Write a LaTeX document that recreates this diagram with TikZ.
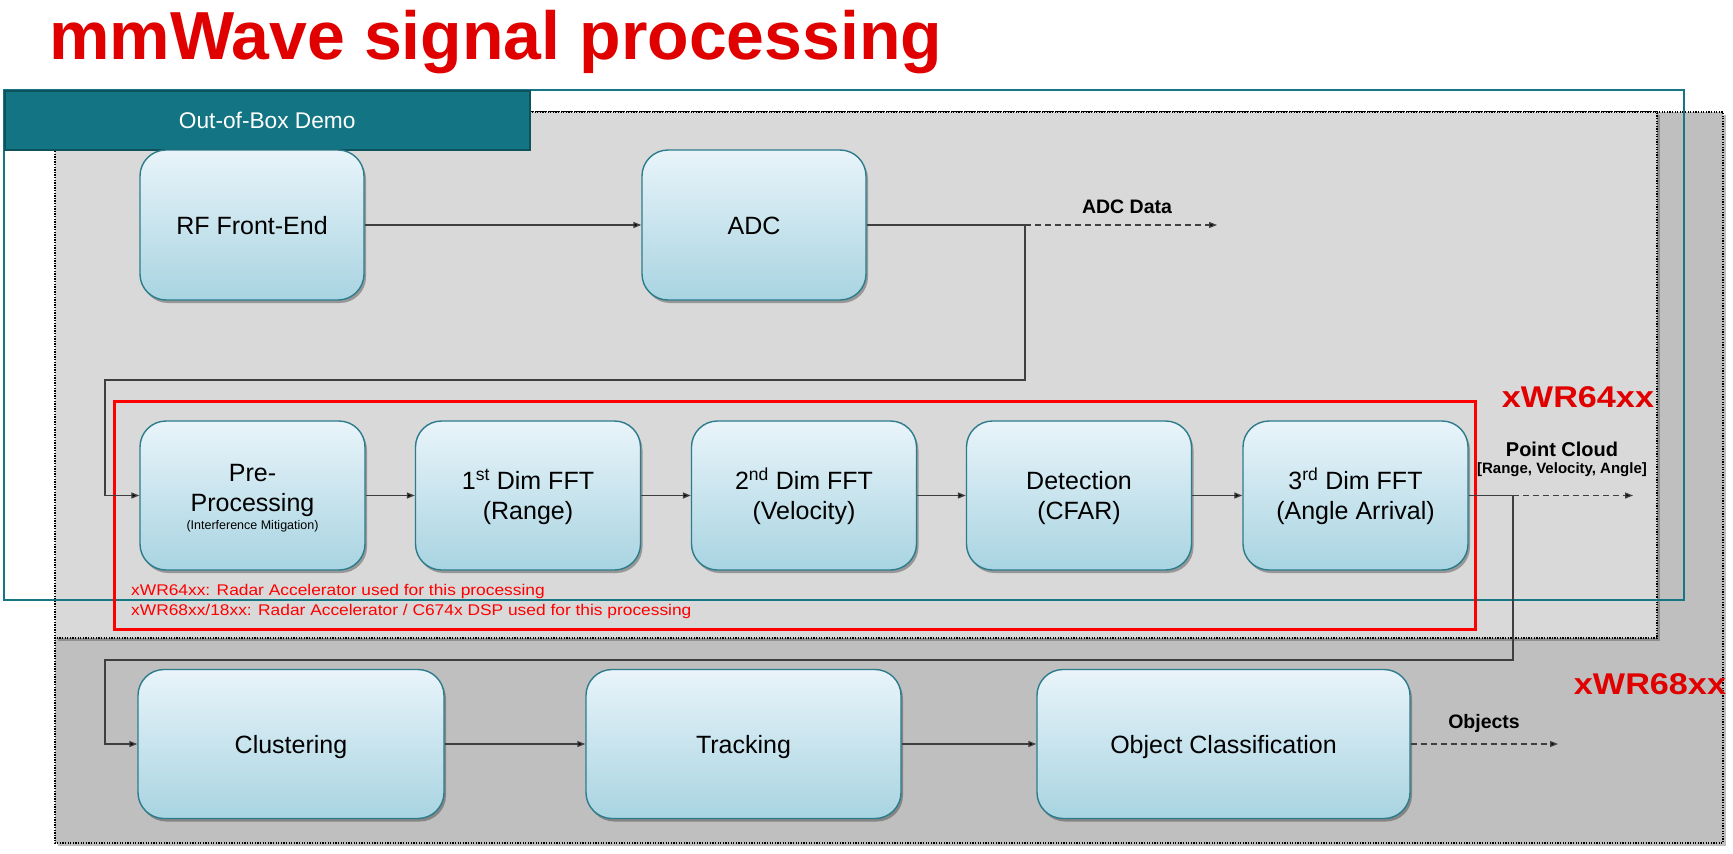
\documentclass[tikz,border=0pt]{standalone}
\usepackage{fontspec}
\setmainfont{Liberation Sans}
\usetikzlibrary{arrows.meta,shadows}
\definecolor{titlered}{RGB}{224,0,0}
\definecolor{tealline}{RGB}{22,118,132}
\definecolor{tealfill}{RGB}{19,117,131}
\definecolor{tealdark}{RGB}{14,82,92}
\definecolor{lightgrey}{RGB}{217,217,217}
\definecolor{darkgrey}{RGB}{191,191,191}
\definecolor{boxtop}{RGB}{233,244,250}
\definecolor{boxbot}{RGB}{168,212,225}
\definecolor{boxborder}{RGB}{44,124,140}
\definecolor{connc}{RGB}{63,63,63}
\definecolor{notered}{RGB}{255,0,0}
\begin{document}
\begin{tikzpicture}[x=1pt,y=-1pt,
  greybox/.style={draw=black, line width=2pt, dash pattern=on 1.3pt off 1.3pt},
  blk/.style={rectangle, rounded corners=26pt, draw=boxborder, line width=1.4pt,
    top color=boxtop, bottom color=boxbot, align=center, inner sep=0pt,
    font=\fontsize{25}{30}\selectfont, text=black, text height=23pt, text depth=5pt,
    drop shadow={shadow xshift=2pt, shadow yshift=-3pt, opacity=0.3, fill=black}},
  twoline/.style={text height=53pt, text depth=5pt},
  conn/.style={draw=connc, line width=1.3pt, -{Triangle[length=8pt,width=6pt,fill=black]}},
  plainconn/.style={draw=connc, line width=1.3pt},
  dconn/.style={draw=connc, line width=1.3pt, dash pattern=on 6pt off 4pt,
    -{Triangle[length=8pt,width=6pt,fill=black]}},
  lbl/.style={font=\bfseries\fontsize{19.5}{22}\selectfont, text=black, inner sep=0pt},
  bigred/.style={font=\bfseries\fontsize{30}{34}\selectfont, text=titlered, inner sep=0pt, anchor=base},
  note/.style={font=\fontsize{15.5}{18}\selectfont, text=notered, inner sep=0pt, anchor=base west}
]
\useasboundingbox[fill=white] (0,0) rectangle (1733,854);

% title
\node[anchor=base west, text=titlered, font=\bfseries\fontsize{68}{72}\selectfont, inner sep=0pt] (title) at (49,59) {mmWave signal processing};

% grey areas
\draw[greybox, fill=darkgrey, drop shadow={shadow xshift=3pt, shadow yshift=-3pt, opacity=0.25, fill=black}] (55,112) rectangle (1723,843);
\draw[greybox, fill=lightgrey, drop shadow={shadow xshift=3pt, shadow yshift=-3pt, opacity=0.25, fill=black}] (55,112) rectangle (1657,638);

% out-of-box demo frame
\draw[draw=tealline, line width=2pt] (4,90) rectangle (1684,600);
\node[fill=tealfill, draw=tealdark, line width=1.5pt, minimum width=525pt, minimum height=59pt,
  inner sep=0pt, anchor=north west, text=white, font=\fontsize{22.7}{26}\selectfont] (hdr) at (4,90) {Out-of-Box Demo};

% red accelerator frame
\draw[draw=notered, line width=3pt] (114,401) rectangle (1475,629);
\node[note] (note1) at (131,595) {\scalebox{1.12}[1]{xWR64xx: Radar Accelerator used for this processing}};
\node[note] (note2) at (131,615.5) {\scalebox{1.12}[1]{xWR68xx/18xx: Radar Accelerator / C674x DSP used for this processing}};

% device labels
\node[bigred] (l64) at (1578,407) {\scalebox{1.14}[1]{xWR64xx}};
\node[bigred] (l68) at (1650,694) {\scalebox{1.14}[1]{xWR68xx}};

% row 1
\node[blk, minimum width=224pt, minimum height=150pt] (rf) at (252,225) {RF Front-End};
\node[blk, minimum width=224pt, minimum height=150pt] (adc) at (754,225) {ADC};

% row 2
\node[blk, text height=71pt, text depth=3pt, minimum width=225pt, minimum height=149pt] (pre) at (252.5,495.5)
  {Pre-\\Processing\\[-12pt]{\fontsize{12.5}{14}\selectfont (Interference Mitigation)}};
\node[blk, twoline, minimum width=225pt, minimum height=149pt] (f1) at (528,495.5) {1\textsuperscript{st} Dim FFT\\(Range)};
\node[blk, twoline, minimum width=225pt, minimum height=149pt] (f2) at (804,495.5) {2\textsuperscript{nd} Dim FFT\\(Velocity)};
\node[blk, twoline, minimum width=225pt, minimum height=149pt] (det) at (1079,495.5) {Detection\\(CFAR)};
\node[blk, twoline, minimum width=225pt, minimum height=149pt] (f3) at (1355.5,495.5) {3\textsuperscript{rd} Dim FFT\\(Angle Arrival)};

% row 3
\node[blk, minimum width=306pt, minimum height=149pt] (clu) at (291,744) {Clustering};
\node[blk, minimum width=315pt, minimum height=149pt] (trk) at (743.5,744) {Tracking};
\node[blk, minimum width=373pt, minimum height=149pt] (obj) at (1223.5,744) {Object Classification};

% coordinates
\coordinate (j1) at (1025,225);
\coordinate (adcout) at (1217,225);
\coordinate (c1) at (1025,380);
\coordinate (c2) at (105,380);
\coordinate (j2) at (1513,495.5);
\coordinate (pcout) at (1633,495.5);
\coordinate (c3) at (1513,660);
\coordinate (c4) at (105,660);
\coordinate (objout) at (1558,744);

% connectors
\draw[conn] (rf) -- (adc);
\draw[plainconn] (adc.east) -- (j1);
\draw[dconn] (j1) -- (adcout);
\draw[conn] (j1) -- (c1) -- (c2) |- (pre.west);
\draw[conn] (pre) -- (f1);
\draw[conn] (f1) -- (f2);
\draw[conn] (f2) -- (det);
\draw[conn] (det) -- (f3);
\draw[plainconn] (f3.east) -- (j2);
\draw[dconn] (j2) -- (pcout);
\draw[conn] (j2) -- (c3) -- (c4) |- (clu.west);
\draw[conn] (clu) -- (trk);
\draw[conn] (trk) -- (obj);
\draw[dconn] (obj.east) -- (objout);

% connector labels
\node[lbl] (adclbl) at (1127,207) {ADC Data};
\node[lbl, font=\bfseries\fontsize{20}{22}\selectfont] (pclbl) at (1562,449) {Point Cloud};
\node[lbl, font=\bfseries\fontsize{15}{17}\selectfont] (pcsub) at (1562,470) {[Range, Velocity, Angle]};
\node[lbl] (objlbl) at (1484,723) {Objects};
\end{tikzpicture}
\end{document}
